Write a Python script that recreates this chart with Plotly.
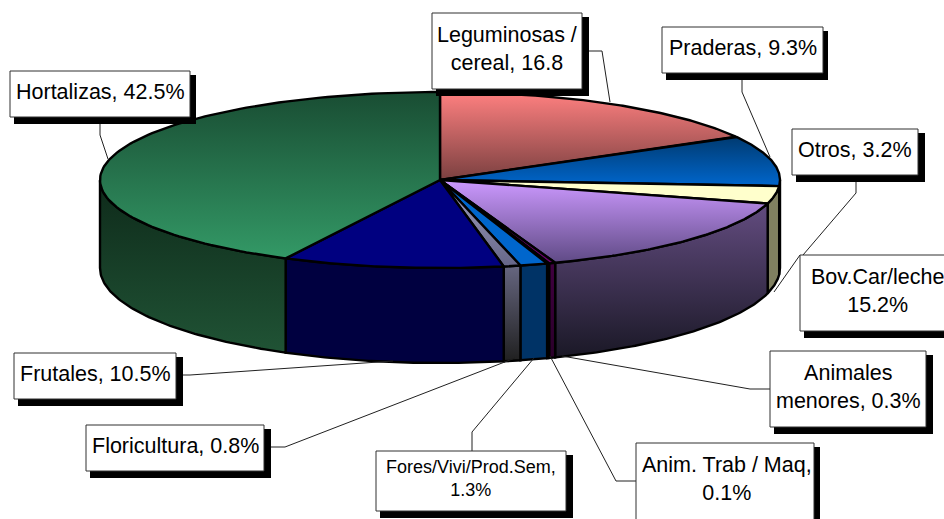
import numpy as np
import plotly.graph_objects as go

# ---- data ----
categories = ["Leguminosas / cereal", "Praderas", "Otros", "Bov.Car/leche", "Animales menores",
              "Anim. Trab / Maq", "Fores/Vivi/Prod.Sem", "Floricultura", "Frutales", "Hortalizas"]
values = [16.8, 9.3, 3.2, 15.2, 0.3, 0.1, 1.3, 0.8, 10.5, 42.5]
label_texts = ["Leguminosas /<br>cereal, 16.8", "Praderas, 9.3%", "Otros, 3.2%", "Bov.Car/leche<br>15.2%",
               "Animales<br>menores, 0.3%", "Anim. Trab / Maq,<br>0.1%", "Fores/Vivi/Prod.Sem,<br>1.3%",
               "Floricultura, 0.8%", "Frutales, 10.5%", "Hortalizas, 42.5%"]
top_colors = [("#FF8080", "#7A4040"), ("#003A70", "#0066CC"), ("#FFFFCC", "#FFFFCC"), ("#CC99FF", "#5F4A85"),
              ("#6A006A", "#6A006A"), ("#FF8080", "#FF8080"), ("#0066CC", "#0066CC"), ("#A0A0C0", "#666688"),
              ("#000080", "#000080"), ("#194D33", "#339966")]
wall_colors = [("#804040", "#804040"), ("#003366", "#003366"), ("#808060", "#808060"), ("#634C80", "#1A1826"),
               ("#400040", "#2A002A"), ("#804040", "#804040"), ("#003366", "#003366"), ("#666680", "#202020"),
               ("#000040", "#000040"), ("#0E2A1A", "#205335")]

# ---- geometry of the drawing (pixels) ----
CX, CY, RX, RY = 440, 180, 340, 88      # top ellipse
BY, BRY = 268, 95                       # bottom ellipse
edges = np.deg2rad(np.concatenate([[0], np.cumsum(values)]) / sum(values) * 360)

def top_pt(t):
    return CX + RX * np.sin(t), CY - RY * np.cos(t)

def bot_pt(t):
    return CX + RX * np.sin(t), BY - BRY * np.cos(t)

fig = go.Figure()

def poly(x, y, colors, y0, y1, lw=2.4):
    fig.add_trace(go.Scatter(
        x=list(x), y=list(y), mode="lines", fill="toself",
        line=dict(color="black", width=lw), hoverinfo="skip", showlegend=False,
        fillgradient=dict(type="vertical", start=y0, stop=y1,
                          colorscale=[[0, colors[0]], [1, colors[1]]]),
    ))

# side walls (only the front half of the pie shows)
for i in range(len(values)):
    a = max(edges[i], np.pi / 2)
    b = min(edges[i + 1], 3 * np.pi / 2)
    if b <= a:
        continue
    t = np.linspace(a, b, 80)
    tx, ty = top_pt(t)
    bx, by = bot_pt(t[::-1])
    x = np.r_[tx, bx, tx[0]]
    y = np.r_[ty, by, ty[0]]
    poly(x, y, wall_colors[i], y.min(), y.max())

# top faces
for i in range(len(values)):
    t = np.linspace(edges[i], edges[i + 1], 120)
    tx, ty = top_pt(t)
    x = np.r_[CX, tx, CX]
    y = np.r_[CY, ty, CY]
    poly(x, y, top_colors[i], y.min(), y.max())

# ---- label boxes: left, top, right, bottom, shadow right, shadow bottom ----
boxes = {
    "Leguminosas / cereal": (432, 13, 582, 89, 589, 96),
    "Praderas": (662, 27, 823, 73, 828, 80),
    "Otros": (792, 129, 918, 175, 925, 182),
    "Bov.Car/leche": (800, 255, 955, 331, 962, 338),
    "Animales menores": (770, 351, 926, 427, 933, 434),
    "Anim. Trab / Maq": (636, 443, 814, 530, 820, 537),
    "Fores/Vivi/Prod.Sem": (376, 451, 566, 511, 573, 518),
    "Floricultura": (86, 425, 264, 471, 271, 478),
    "Frutales": (14, 353, 176, 399, 183, 406),
    "Hortalizas": (10, 71, 190, 117, 196, 124),
}
leaders = {
    "Leguminosas / cereal": [(589, 51), (602, 51), (610, 102)],
    "Praderas": [(742, 80), (742, 92), (770, 157)],
    "Otros": [(856, 182), (856, 193), (803, 255)],
    "Bov.Car/leche": [(800, 255), (774, 292)],
    "Animales menores": [(770, 389), (750, 389), (562, 356)],
    "Anim. Trab / Maq": [(636, 481), (616, 481), (550, 356)],
    "Fores/Vivi/Prod.Sem": [(472, 451), (472, 432), (534, 358)],
    "Floricultura": [(271, 447), (285, 447), (515, 358)],
    "Frutales": [(183, 375), (190, 375), (393, 361)],
    "Hortalizas": [(100, 124), (100, 135), (108, 159)],
}

shapes = []
for name in categories:
    pts = leaders[name]
    for p, q in zip(pts[:-1], pts[1:]):
        shapes.append(dict(type="line", x0=p[0], y0=p[1], x1=q[0], y1=q[1], xref="x", yref="y",
                           line=dict(color="#202020", width=1), layer="above"))
annotations = []
for name, text in zip(categories, label_texts):
    l, t, r, b, sr, sb = boxes[name]
    shapes.append(dict(type="rect", x0=l + 4, y0=t + 4, x1=sr, y1=sb, xref="x", yref="y",
                       fillcolor="black", line=dict(width=0), layer="above"))
    shapes.append(dict(type="rect", x0=l, y0=t, x1=r, y1=b, xref="x", yref="y",
                       fillcolor="white", line=dict(color="#303030", width=1), layer="above"))
    small = name.startswith("Fores")
    cx = (l + r) / 2
    cy = (t + b) / 2 - 2.5
    if name == "Bov.Car/leche":
        cx = 877
    if name == "Anim. Trab / Maq":
        cx, cy = 727, 479
    annotations.append(dict(x=cx, y=cy, xref="x", yref="y", text=text, showarrow=False,
                            align="center", xanchor="center", yanchor="middle",
                            font=dict(family="Liberation Sans", size=18 if small else 21.5, color="black")))

fig.update_layout(
    width=944, height=519, autosize=False,
    margin=dict(l=0, r=0, t=0, b=0),
    paper_bgcolor="white", plot_bgcolor="white",
    xaxis=dict(range=[0, 944], visible=False, fixedrange=True),
    yaxis=dict(range=[519, 0], visible=False, fixedrange=True),
    shapes=shapes, annotations=annotations, showlegend=False,
)
fig.write_html("out.html", config=dict(displayModeBar=False),
               post_script="document.body.style.margin='0';document.body.style.overflow='hidden';")
